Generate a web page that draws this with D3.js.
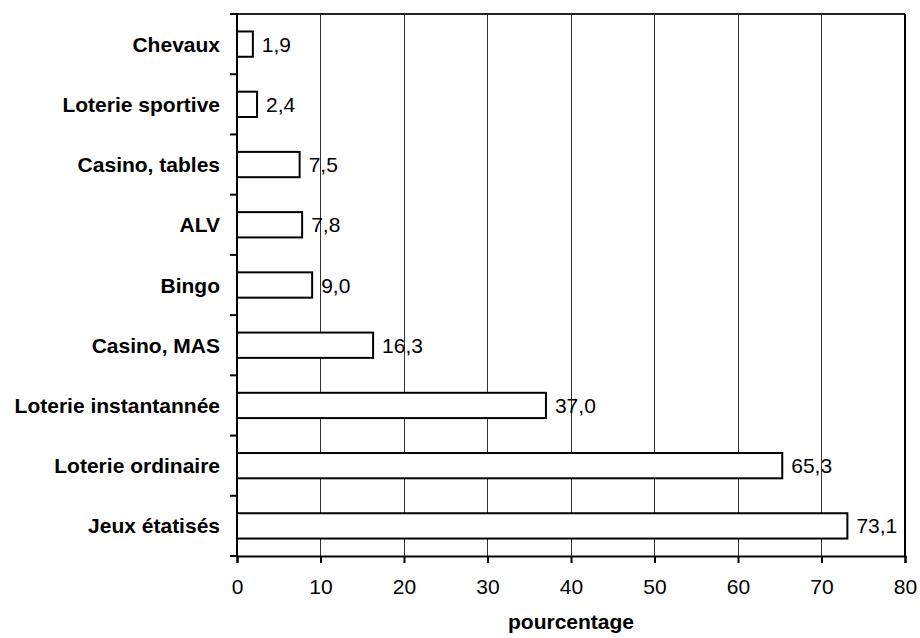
<!DOCTYPE html>
<html><head><meta charset="utf-8">
<script src="https://cdn.jsdelivr.net/npm/d3@7"></script>
<style>body{margin:0;background:#fff}svg{display:block}</style>
</head><body>
<svg id="c" width="920" height="638"></svg>
<script>
const categories = ["Chevaux","Loterie sportive","Casino, tables","ALV","Bingo","Casino, MAS","Loterie instantannée","Loterie ordinaire","Jeux étatisés"];
const values = [1.9,2.4,7.5,7.8,9.0,16.3,37.0,65.3,73.1];
const xTicks = [0,10,20,30,40,50,60,70,80];
const xTitle = "pourcentage";

const FONT = "Liberation Sans, Arial, sans-serif";
const m = {left:237, top:14, right:920-905, bottom:638-556};
const W = 920 - m.left - m.right, H = 638 - m.top - m.bottom;
const svg = d3.select("#c");
const g = svg.append("g").attr("transform",`translate(${m.left},${m.top})`);
const x = d3.scaleLinear().domain([0,80]).range([0,W]);
const y = d3.scaleBand().domain(categories).range([0,H]).paddingInner(0.58).paddingOuter(0.29);
const band = d3.scaleBand().domain(categories).range([0,H]);

// gridlines
g.selectAll(".grid").data(xTicks.slice(1,-1)).join("line")
  .attr("x1",d=>x(d)).attr("x2",d=>x(d)).attr("y1",0).attr("y2",H)
  .attr("stroke","#333").attr("stroke-width",1).attr("shape-rendering","crispEdges");
// top and right border
g.append("line").attr("x1",0).attr("x2",W).attr("y1",0).attr("y2",0).attr("stroke","#222").attr("stroke-width",2);
g.append("line").attr("x1",W).attr("x2",W).attr("y1",0).attr("y2",H).attr("stroke","#000").attr("stroke-width",2);

// bars
g.selectAll(".bar").data(values).join("rect")
  .attr("x",0).attr("y",(d,i)=>y(categories[i]))
  .attr("width",d=>x(d)).attr("height",y.bandwidth())
  .attr("fill","#fff").attr("stroke","#000").attr("stroke-width",2);

// value labels
g.selectAll(".val").data(values).join("text")
  .attr("x",d=>x(d)+9).attr("y",(d,i)=>y(categories[i])+y.bandwidth()/2)
  .attr("dy","0.36em")
  .attr("font-family",FONT).attr("font-size",21)
  .text(d=>d.toFixed(1).replace(".",","));

// bottom axis
const xa = g.append("g").attr("transform",`translate(0,${H})`)
  .call(d3.axisBottom(x).tickValues(xTicks).tickSize(7).tickPadding(16).tickFormat(d3.format("d")));
xa.select(".domain").attr("stroke","#000").attr("stroke-width",2);
xa.selectAll(".tick line").attr("stroke","#000").attr("stroke-width",2);
xa.selectAll("text").attr("font-family",FONT).attr("font-size",21).attr("fill","#000");

// left axis: ticks at band boundaries
const bounds = categories.map(c=>band(c)).concat([H]);
g.selectAll(".lt").data(bounds).join("line")
  .attr("x1",-7).attr("x2",0).attr("y1",d=>d).attr("y2",d=>d)
  .attr("stroke","#000").attr("stroke-width",2);
g.append("line").attr("x1",0).attr("x2",0).attr("y1",-1).attr("y2",H+1).attr("stroke","#000").attr("stroke-width",2);
g.selectAll(".cat").data(categories).join("text")
  .attr("x",-17).attr("y",d=>band(d)+band.bandwidth()/2).attr("dy","0.36em")
  .attr("text-anchor","end").attr("font-weight","bold")
  .attr("font-family",FONT).attr("font-size",21)
  .text(d=>d);

// axis title
svg.append("text").attr("x",m.left+W/2).attr("y",629).attr("text-anchor","middle")
  .attr("font-weight","bold").attr("font-family",FONT).attr("font-size",21)
  .text(xTitle);
</script>
</body></html>
